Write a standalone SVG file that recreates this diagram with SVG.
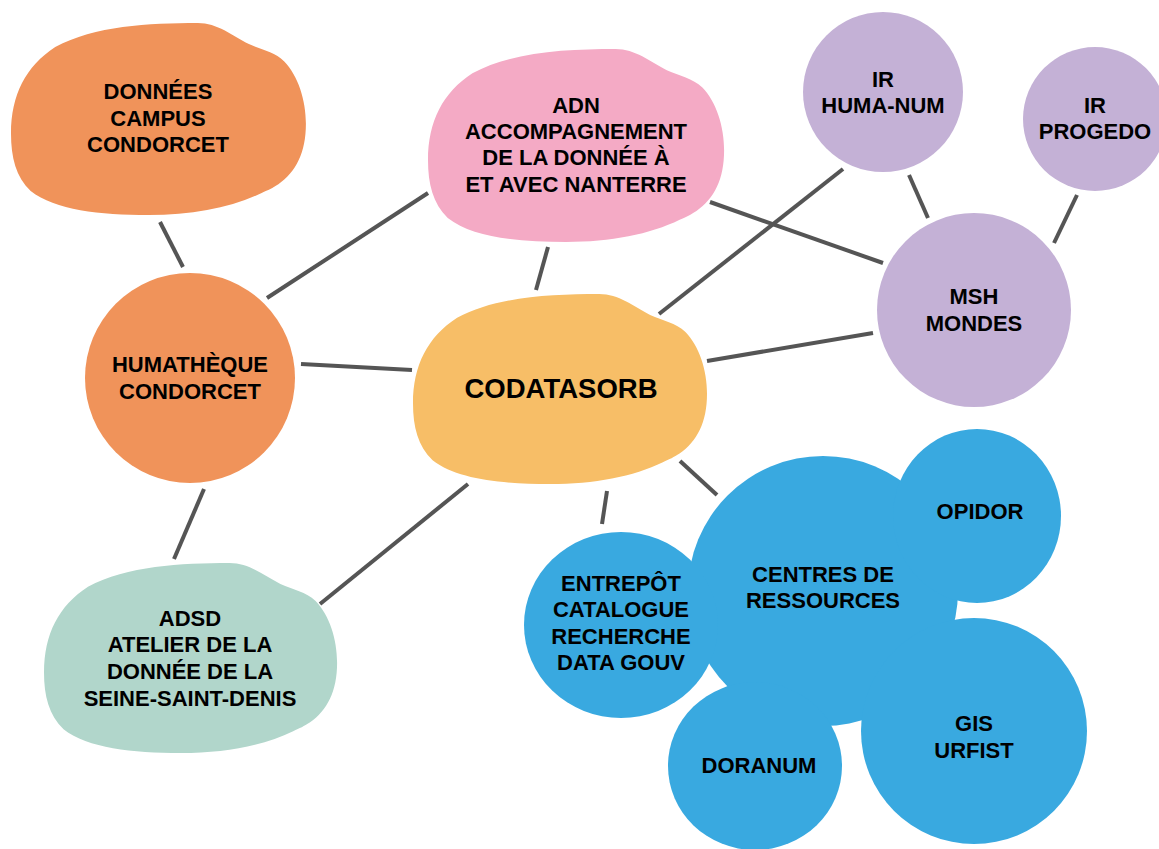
<svg xmlns="http://www.w3.org/2000/svg" width="1159" height="849" viewBox="0 0 1159 849">
<style>
.lbl{font-family:"Liberation Sans",Arial,sans-serif;font-weight:bold;font-size:22px;fill:#000;text-anchor:middle}
.big{font-size:27.5px}
.conn line{stroke:#555;stroke-width:4;stroke-linecap:butt}
.orange{fill:#F0935A}.pink{fill:#F4AAC5}.purple{fill:#C4B1D6}.yellow{fill:#F7BE67}.green{fill:#B1D6CB}.blue{fill:#39A9E0}
</style>
<defs>
<path id="blob" d="M190 0 C210 0 225 13 242 22 C255 28 268 30 278 40 C292 55 300 80 300 105 C300 135 290 155 272 168 C266 172 262 174 255 177 C225 192 185 200 140 200 C90 200 45 195 20 175 C5 160 0 140 0 115 C0 75 15 45 45 25 C85 3 140 0 190 0 Z"/>
</defs>
<rect width="1159" height="849" fill="#fff"/>
<g id="connectors" class="conn">
<line x1="160" y1="222" x2="183" y2="267"/>
<line x1="267" y1="298" x2="428" y2="193"/>
<line x1="301" y1="364" x2="412" y2="370"/>
<line x1="204" y1="489" x2="174" y2="559"/>
<line x1="468" y1="484" x2="320" y2="604"/>
<line x1="548" y1="247" x2="536" y2="290"/>
<line x1="659" y1="314" x2="843" y2="169"/>
<line x1="710" y1="202" x2="883" y2="263"/>
<line x1="707" y1="361" x2="873" y2="333"/>
<line x1="909" y1="175" x2="928" y2="218"/>
<line x1="1077" y1="195" x2="1054" y2="243"/>
<line x1="607" y1="491" x2="602" y2="524"/>
<line x1="680" y1="461" x2="717" y2="495"/>
</g>
<g id="donnees-campus">
<use href="#blob" class="orange" transform="translate(11,23) scale(0.983,0.96)"/>
<text class="lbl" x="158" y="99">DONNÉES</text>
<text class="lbl" x="158" y="126">CAMPUS</text>
<text class="lbl" x="158" y="152">CONDORCET</text>
</g>
<g id="adn">
<use href="#blob" class="pink" transform="translate(428,49) scale(0.987,0.965)"/>
<text class="lbl" x="576" y="113">ADN</text>
<text class="lbl" x="576" y="139">ACCOMPAGNEMENT</text>
<text class="lbl" x="576" y="165">DE LA DONNÉE À</text>
<text class="lbl" x="576" y="192">ET AVEC NANTERRE</text>
</g>
<g id="ir-huma-num">
<circle class="purple" cx="883" cy="92" r="80"/>
<text class="lbl" x="883" y="87">IR</text>
<text class="lbl" x="883" y="113">HUMA-NUM</text>
</g>
<g id="ir-progedo">
<circle class="purple" cx="1095" cy="119" r="72"/>
<text class="lbl" x="1095" y="113">IR</text>
<text class="lbl" x="1095" y="139">PROGEDO</text>
</g>
<g id="msh-mondes">
<circle class="purple" cx="974" cy="310" r="97"/>
<text class="lbl" x="974" y="304">MSH</text>
<text class="lbl" x="974" y="331">MONDES</text>
</g>
<g id="humatheque">
<circle class="orange" cx="190" cy="378" r="105"/>
<text class="lbl" x="190" y="372">HUMATHÈQUE</text>
<text class="lbl" x="190" y="399">CONDORCET</text>
</g>
<g id="codatasorb">
<use href="#blob" class="yellow" transform="translate(413,294) scale(0.98,0.95)"/>
<text class="lbl big" x="561" y="398">CODATASORB</text>
</g>
<g id="adsd">
<use href="#blob" class="green" transform="translate(44,563) scale(0.977,0.95)"/>
<text class="lbl" x="190" y="626">ADSD</text>
<text class="lbl" x="190" y="652">ATELIER DE LA</text>
<text class="lbl" x="190" y="679">DONNÉE DE LA</text>
<text class="lbl" x="190" y="706">SEINE-SAINT-DENIS</text>
</g>
<g id="centres-ressources">
<circle class="blue" cx="823" cy="591" r="135"/>
<text class="lbl" x="823" y="582">CENTRES DE</text>
<text class="lbl" x="823" y="608">RESSOURCES</text>
</g>
<g id="opidor">
<ellipse class="blue" cx="977" cy="516" rx="84" ry="87"/>
<text class="lbl" x="980" y="519">OPIDOR</text>
</g>
<g id="gis-urfist">
<circle class="blue" cx="974" cy="731" r="113"/>
<text class="lbl" x="974" y="731">GIS</text>
<text class="lbl" x="974" y="758">URFIST</text>
</g>
<g id="doranum">
<ellipse class="blue" cx="755" cy="766" rx="87" ry="84"/>
<text class="lbl" x="759" y="773">DORANUM</text>
</g>
<g id="entrepot">
<ellipse class="blue" cx="621" cy="625" rx="97" ry="93"/>
<text class="lbl" x="621" y="591">ENTREPÔT</text>
<text class="lbl" x="621" y="617">CATALOGUE</text>
<text class="lbl" x="621" y="644">RECHERCHE</text>
<text class="lbl" x="621" y="670">DATA GOUV</text>
</g>
</svg>
